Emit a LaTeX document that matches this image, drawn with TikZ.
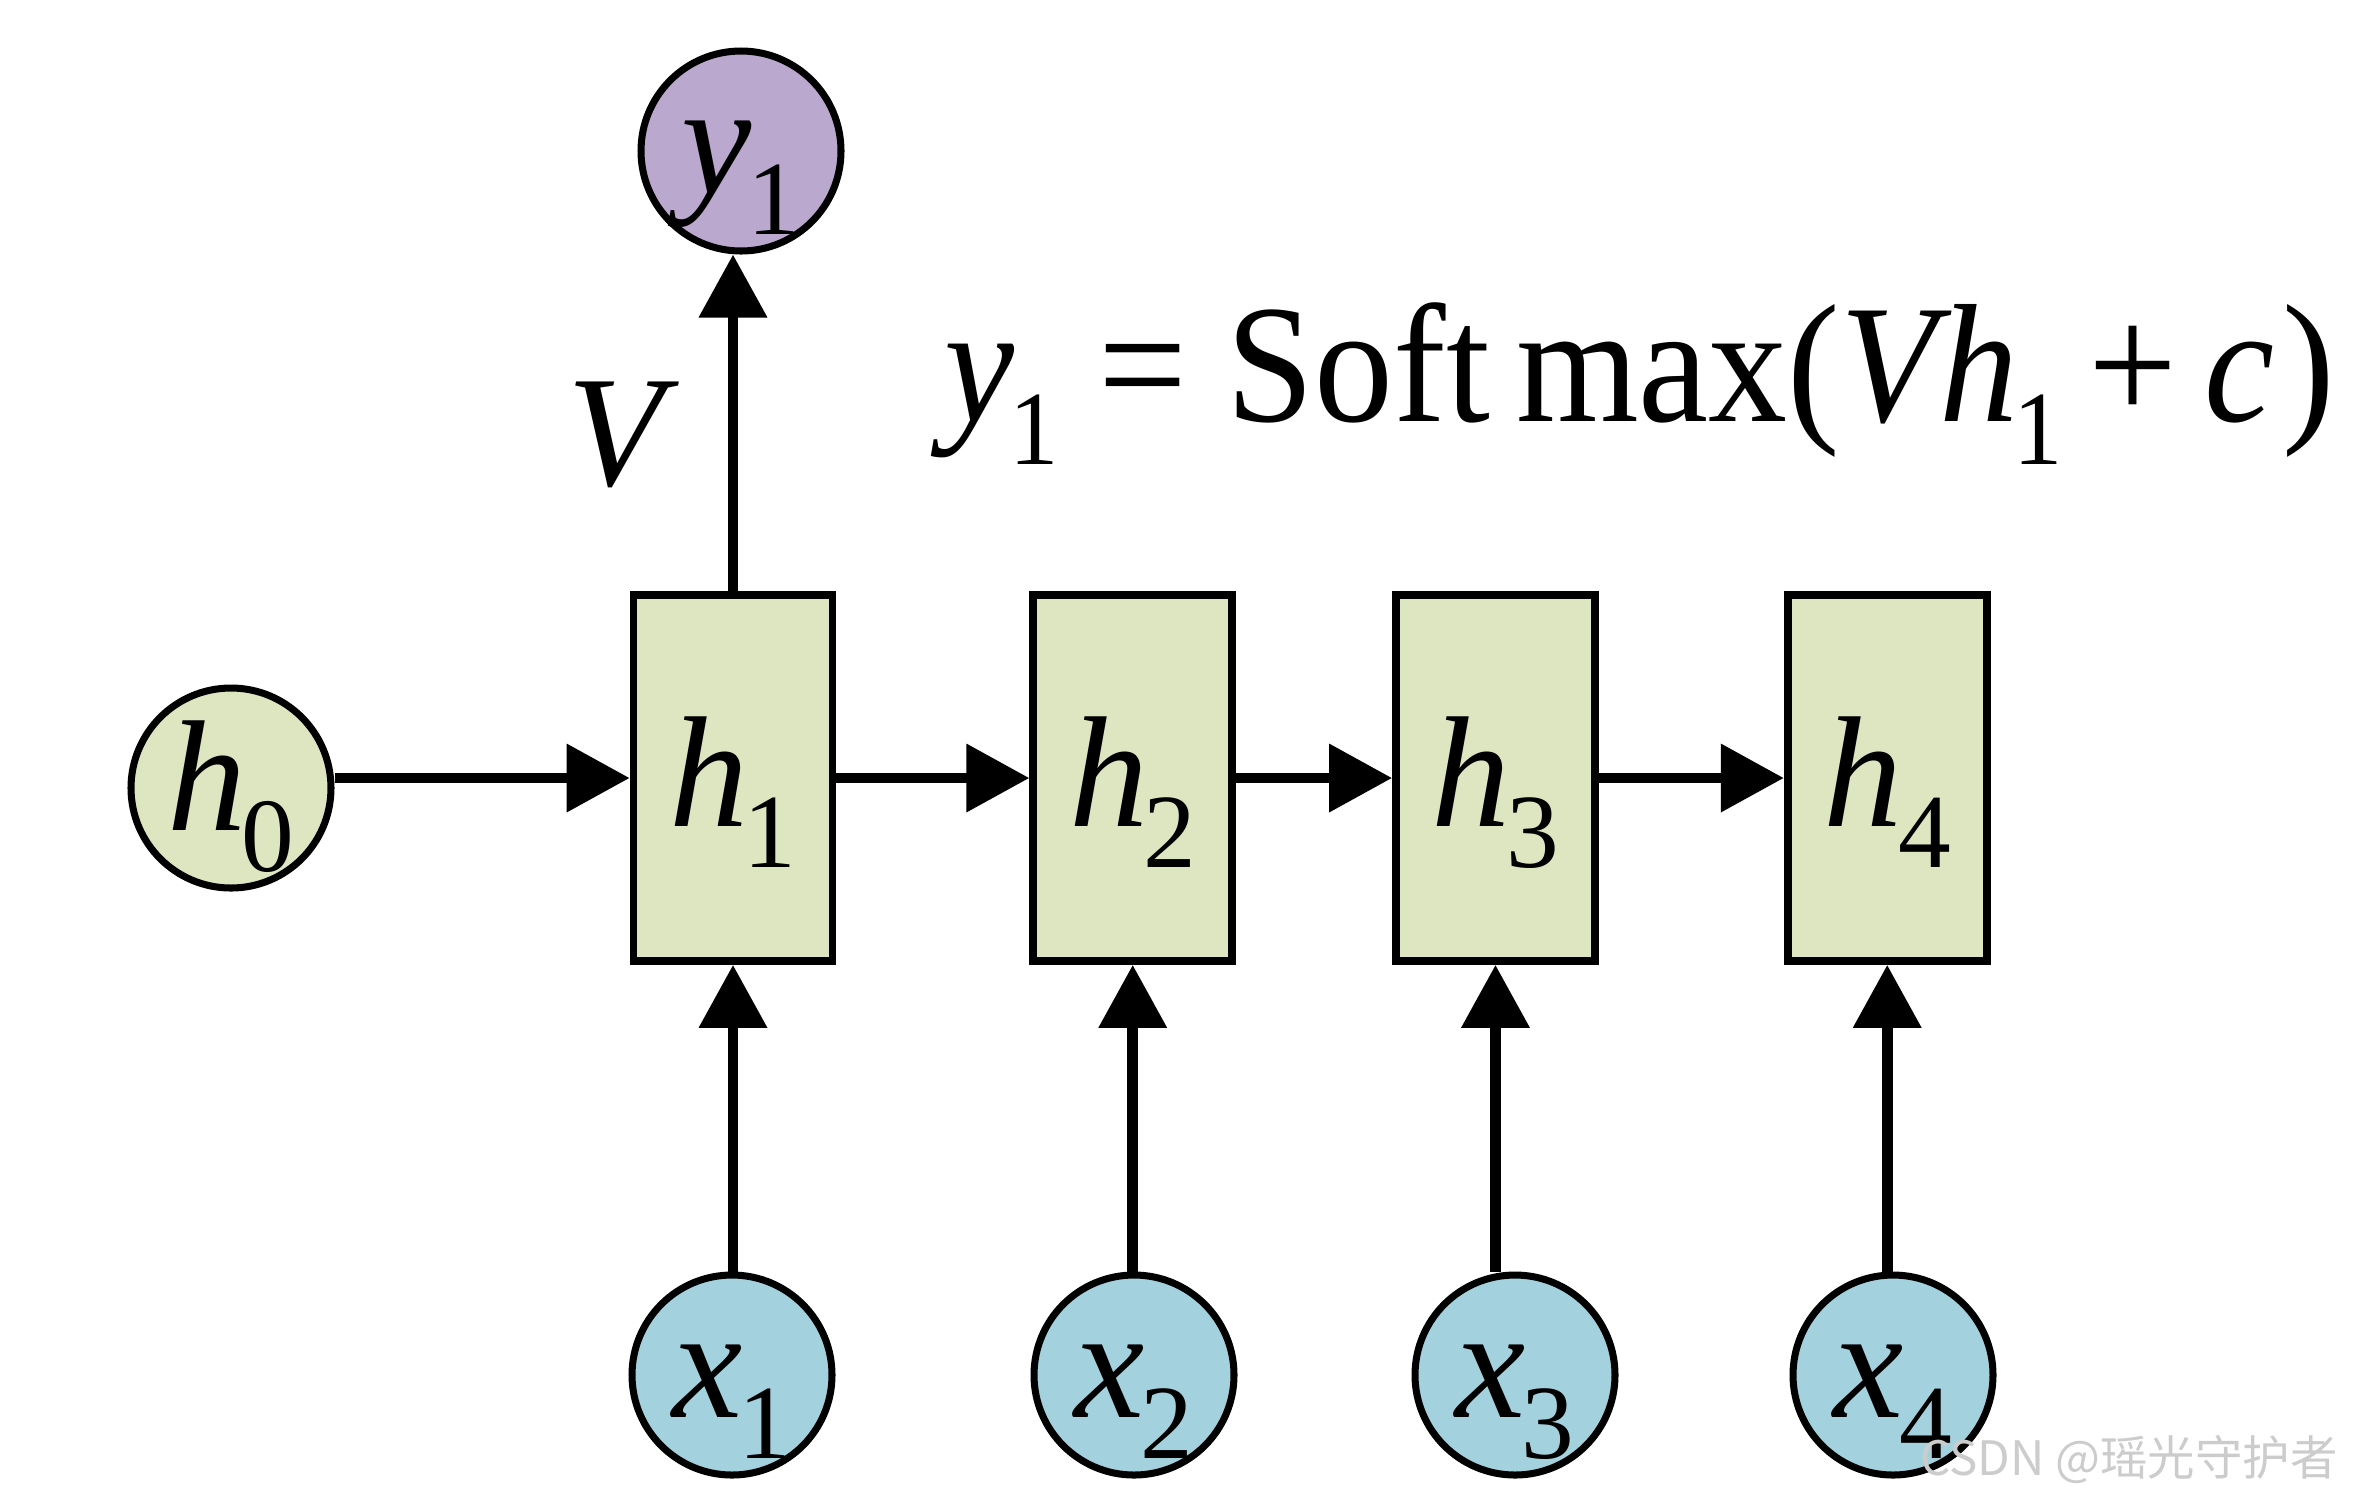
\documentclass[tikz,border=0pt]{standalone}
\usepackage{fontspec}
\newfontfamily\timesfont{Liberation Serif}
\newfontfamily\cjkfont{Noto Sans CJK SC}
\usetikzlibrary{positioning,arrows.meta}
\definecolor{cellgreen}{RGB}{221,230,193}
\definecolor{inblue}{RGB}{163,210,222}
\definecolor{outpurple}{RGB}{187,168,206}
\newcommand{\rnnvar}[2]{\textit{#1}\kern-0.03em\raisebox{-0.26em}{\fontsize{30}{30}\selectfont #2}}

\begin{document}
\begin{tikzpicture}[>={Triangle[length=6.3mm, width=6.6mm]},
    font=\timesfont\fontsize{45}{45}\selectfont,
    state/.style={draw, circle, line width=2pt, minimum size=2cm, inner sep=0pt,
        text height=1.1cm, text depth=0.26cm},
    cell/.style={draw, rectangle, fill=cellgreen, line width=2.2pt, minimum width=1.99cm,
        minimum height=3.66cm, inner sep=0pt, text height=1.2cm, text depth=0.24cm},
    link/.style={->, line width=3pt}]
    \useasboundingbox (0,0) rectangle (23.56,-15);

    % hidden cells
    \node[cell] (h1) at (7.33,-7.78) {\rnnvar{h}{1}};
    \node[cell, right=1.93cm of h1] (h2) {\rnnvar{h}{2}};
    \node[cell, right=1.56cm of h2] (h3) {\rnnvar{h}{3}};
    \node[cell, right=1.85cm of h3] (h4) {\rnnvar{h}{4}};

    \node[state, fill=cellgreen] (h0) at (2.31,-7.88) {\rnnvar{h}{0}};
    \node[state, fill=outpurple] (y1) at (7.41,-1.51) {\rnnvar{y}{1}};

    % inputs
    \node[state, fill=inblue] (x1) at (7.32,-13.75) {\rnnvar{x}{1}};
    \node[state, fill=inblue] (x2) at (11.34,-13.75) {\rnnvar{x}{2}};
    \node[state, fill=inblue] (x3) at (15.15,-13.75) {\rnnvar{x}{3}};
    \node[state, fill=inblue] (x4) at (18.93,-13.75) {\rnnvar{x}{4}};

    \draw[link] (h0.east |- h1.west) -- (h1.west);
    \draw[link] (h1) -- (h2);
    \draw[link] (h2) -- (h3);
    \draw[link] (h3.east) -- (h3.east |- h4.west) -- (h4.west);
    \draw[link] (h1.north) -- (h1.north |- y1.south);
    \foreach \k in {1,2,3,4}
        \draw[link] (h\k.south |- x\k.north) -- (h\k.south);

    \node[anchor=base west] (vlbl) at (5.55,-4.85) {\textit{V}};
    \node[anchor=base west, font=\timesfont\fontsize{48}{48}\selectfont] (eq) at (9.32,-4.21)
        {\scalebox{0.935}[1]{\rnnvar{y}{1} = Soft\,max(\textit{V}\kern-0.08em\rnnvar{h}{1}\,+\,\textit{c}\kern0.05em)}};

    \node[anchor=base east, text=black!20, font=\fontsize{13.5}{13.5}\selectfont\cjkfont] (mark) at (23.50,-14.75) {CSDN @瑶光守护者};
\end{tikzpicture}
\end{document}
